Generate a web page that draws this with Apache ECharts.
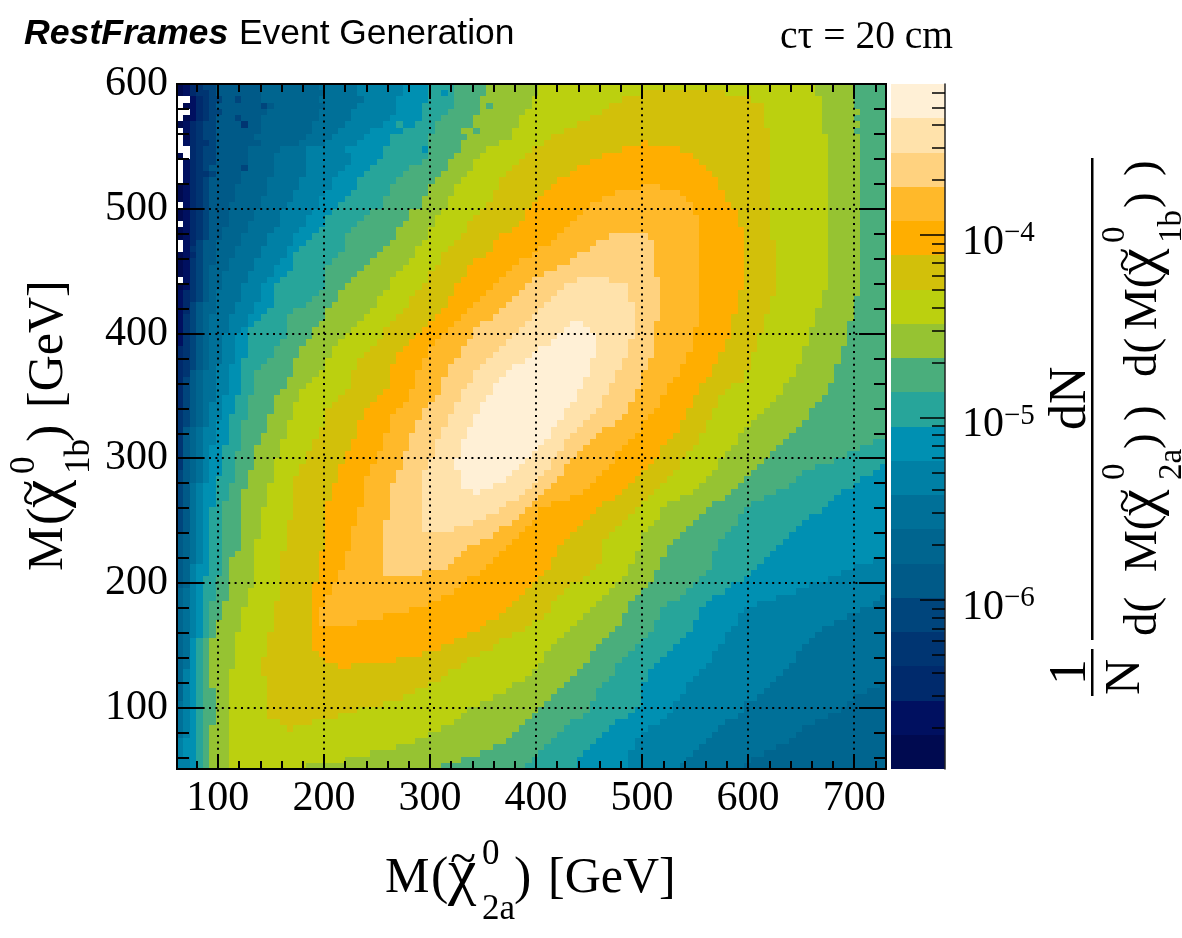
<!DOCTYPE html>
<html>
<head>
<meta charset="utf-8">
<style>html,body{margin:0;padding:0;background:#fff}#chart{width:1182px;height:938px}</style>
<script src="https://cdn.jsdelivr.net/npm/echarts@6/dist/echarts.min.js"></script>
</head>
<body>
<div id="chart"></div>
<script>
// Axis ranges in GeV and the binning of the 2D histogram
const xRange = [61.5, 730];
const yRange = [50.9, 600];
const binCount = 110;

const xMajorTicks = [100, 200, 300, 400, 500, 600, 700];
const yMajorTicks = [100, 200, 300, 400, 500, 600];
const xMinorTicks = [80, 120, 140, 160, 180, 220, 240, 260, 280, 320, 340, 360, 380, 420, 440, 460, 480, 520, 540, 560, 580, 620, 640, 660, 680, 720];
const yMinorTicks = [60, 80, 120, 140, 160, 180, 220, 240, 260, 280, 320, 340, 360, 380, 420, 440, 460, 480, 520, 540, 560, 580];

// Colour scale: log10 of the density, split into 20 contour bands
const logRange = [-6.926, -3.173];
const colorDecades = [-6, -5, -4];
const colorMinorTicks = [2e-7, 3e-7, 4e-7, 5e-7, 6e-7, 7e-7, 8e-7, 9e-7, 2e-6, 3e-6, 4e-6, 5e-6, 6e-6, 7e-6, 8e-6, 9e-6, 2e-5, 3e-5, 4e-5, 5e-5, 6e-5, 7e-5, 8e-5, 9e-5, 2e-4, 3e-4, 4e-4, 5e-4, 6e-4];
const bandColors = ['#000a50', '#001060', '#002a6c', '#003572', '#00457c', '#005a88', '#00658f', '#007098', '#0080a5', '#0090b2', '#27a59a', '#4aae7c', '#96c332', '#bbd00f', '#d2c00a', '#ffae00', '#ffb92a', '#ffd27f', '#ffe2ab', '#fff0d6'];

// Histogram contents, top row first. Each token is a band letter (a = lowest, t = highest,
// "." = empty bin) followed by the column where that run of bins ends.
const densityRows = [
"a1 b2 c3 d4 e6 f13 g22 h28 i35 j39 k43 l48 m56 n99 m105 l110",
"a1 b2 c3 d5 e6 f13 g23 h28 i35 j39 k41 j42 k43 l48 m56 n72 o85 n99 m105 l110",
".2 b3 c4 d5 e7 f9 e10 f13 g22 h29 i34 j39 k43 l47 m55 n69 o89 n100 m105 l110",
".1 a2 b3 c4 d5 e6 f13 e14 f15 g23 h28 i34 j38 k43 l47 m48 l49 m55 n67 o91 n100 m105 l110",
".2 b3 c4 d5 e7 f14 g22 h27 i34 j38 k42 l47 m54 n66 o91 n100 m106 l110",
".1 a2 b3 c4 d5 e6 f9 e10 f13 g22 h27 i33 j38 k41 l46 m53 n64 o91 n100 m105 l110",
"a1 b2 c3 d4 e6 f10 d11 f13 g21 h26 i32 j34 k35 j37 k40 l46 m53 n62 o91 n100 m106 l110",
".1 b2 c3 d4 e6 f13 g21 h25 i30 j35 k40 l44 m46 l47 m52 n60 o92 n100 m105 l110",
".1 a2 c3 d4 e6 f12 g20 h24 i29 j33 k39 l45 m52 n58 o92 n101 m106 l110",
".1 b2 c3 d5 e6 f13 g19 h23 i28 j33 k39 l44 m50 n57 o72 p73 o92 n101 m106 l110",
".1 .2 c3 d4 e6 f11 g16 h20 i26 j32 k38 j39 l44 m48 n55 o69 p78 o92 n101 m106 l110",
"a1 .2 c3 d4 e6 f11 g15 h20 i27 j32 k39 l43 m47 n54 o66 p80 o92 n101 m106 l110",
".1 b2 c3 d4 e6 f11 g15 h20 i27 j31 k38 l42 m46 n53 o64 p81 o92 n101 m106 l110",
".1 b2 c3 d4 e5 f10 e11 g15 h20 i26 j30 k36 l42 m46 n52 o62 p82 o92 n101 m106 l110",
".1 b2 c3 d5 e6 f10 g15 h20 i25 j29 k35 l41 m45 n51 o61 p83 o92 n101 m106 l110",
".1 b2 c3 d4 e5 f10 g14 h19 i24 j28 k34 l40 m44 n50 o59 p84 o92 n101 m106 l110",
"a1 b2 c3 d4 e5 f9 g14 h19 i24 j28 k26 k33 l39 m43 n50 o58 p72 q75 p84 o92 n101 m106 l110",
"a1 b2 c3 d4 e5 f9 g14 h18 i23 j27 k33 l39 m43 n49 o57 p68 q78 p85 o92 n101 m106 l110",
"a1 b2 c3 d4 e5 f9 g13 h18 i22 j26 k32 l38 m42 n49 o56 p66 q79 p85 o92 n101 m106 l110",
".1 b2 c3 d4 e5 f8 g13 h17 i22 j25 k32 l38 m42 n48 o55 p64 q80 p86 o92 n101 m106 l110",
"a1 b2 c3 d4 e5 f8 g12 h16 i21 j24 k30 l36 m41 n47 o54 p63 q80 p87 o92 n101 m106 l110",
"a1 b2 c3 d4 e5 f8 g12 h16 i20 j23 k29 l36 m40 n46 o54 p62 q81 p87 o92 n101 m106 l110",
".1 b2 c3 d4 e5 f8 g11 h16 i20 j23 k28 l35 m40 n45 o53 p61 q81 p87 o92 n101 m106 l110",
"a1 b2 c3 d4 e5 f7 g11 h15 i19 j22 k27 l34 m39 n45 o52 p60 q81 p88 o92 n101 m106 l110",
"a1 b2 c3 d4 e5 f7 g10 h14 i18 j21 k26 l34 m39 n44 o50 p59 q67 r73 q81 p88 o92 n101 m106 l110",
".1 b2 c3 e4 f6 g10 h14 i18 j20 k26 l33 m38 n43 o49 p58 q65 r74 q81 p88 o93 n101 m106 l110",
".1 b2 d3 e4 f6 g9 h13 i17 j19 k26 l32 m37 n42 o49 p56 q64 r74 q81 p88 o93 n101 m106 l110",
"a1 b2 c3 e4 f6 g9 h13 i17 j18 k25 l31 m37 n41 o48 p55 q62 r74 q81 p88 o93 n101 m106 l110",
"a1 b2 d3 e4 f6 g8 h12 i16 j18 k24 l30 m36 n41 o46 p53 q61 r74 q81 p88 o93 n101 m106 l110",
"a1 b2 d3 e4 f5 g8 h12 i15 j18 k23 l29 m35 n40 o45 p52 q59 r74 q81 p88 o93 n101 m106 l110",
"a1 b2 d3 e4 f5 g7 h11 i15 j17 k23 l28 m34 n39 o45 p51 q57 r74 q81 p88 o93 n101 m106 l110",
".1 b2 d3 e4 f5 g7 h11 i14 j16 k23 l27 m33 n39 o44 p50 q55 r62 s67 r75 q81 p88 o93 n101 m106 l110",
"a1 b2 d3 e4 f5 g7 h10 i13 j15 k23 l26 m33 n38 o43 p49 q54 r60 s70 r75 q81 p88 o93 n101 m106 l110",
"b1 c2 d3 e4 f5 g6 h10 i13 j15 k22 l25 m32 n37 o43 p48 q53 r59 s70 r75 q81 p87 o93 n100 m106 l110",
"b1 c2 d3 e4 f5 g6 h10 i13 j15 k21 l25 m31 n36 o42 p47 q52 r58 s70 r75 q81 p87 o92 n100 m105 l110",
"b1 c2 e3 f4 g6 h9 i12 j15 k20 l24 m31 n36 o42 p46 q51 r57 s71 r75 q81 p87 o92 n100 m105 l110",
"b1 c2 e3 f4 g6 h9 i12 j14 k18 l23 m30 n35 o41 p45 q50 r56 s71 r75 q81 p87 o92 n99 m105 l110",
"b1 d2 e3 f4 g5 h8 i11 j13 k17 l23 m29 n34 o40 p44 q49 r55 s71 r75 q81 p86 o91 n99 m105 l110",
"b1 d2 e3 f4 g5 h8 i11 j12 k17 l22 m28 n33 o39 p43 q47 r54 s61 t63 s71 r74 q81 p86 o91 n99 m104 l110",
"b1 d2 e3 f4 g5 h8 i10 j11 k17 l21 m27 n32 o38 p42 q46 r53 s60 t64 s71 r74 q80 p86 o91 n98 m104 l110",
"b1 d2 e3 f4 g5 h7 i9 j11 k17 l21 m26 n32 o37 p41 q46 r52 s59 t65 s71 r74 q80 p86 o90 n98 m104 l110",
"b1 d2 e3 f4 g5 h7 i9 j11 k16 l20 m25 n31 o36 p40 q45 r51 s58 t65 s70 r74 q80 p85 o90 n98 m104 l110",
"c1 d2 e3 f4 g5 h7 i9 j11 k15 l19 m24 n30 o35 p39 q44 r50 s56 t65 s70 r74 q80 p85 o90 n97 m103 l110",
"c1 d2 e3 f4 g5 h7 i9 j11 k15 l19 m24 n29 o34 p39 q44 r49 s55 t65 s70 r74 q79 p84 o89 n97 m103 l110",
"c1 d2 e3 f4 g5 h7 i9 j10 k14 l18 m23 n28 o34 p38 q43 r48 s54 t64 s69 r73 q79 p84 o89 n97 m103 l110",
"c1 d2 e3 f4 g5 h6 i8 j10 k13 l18 m23 n28 o33 p38 q42 r47 s52 t64 s69 r73 q78 p83 o89 n96 m102 l110",
"c1 d2 f3 g4 h6 i8 j10 k12 l18 m22 n27 o33 p37 q42 r46 s51 t64 s68 r72 q78 p83 o88 n96 m102 l110",
"c1 e2 f3 g4 h6 i8 j10 k12 l17 m21 n27 o33 p37 q41 r46 s50 t63 s68 r72 q77 p82 o88 n95 m102 l110",
"c1 e2 f3 g4 h6 i8 j10 k12 l17 m20 n27 o33 p37 q41 r45 s49 t63 s67 r72 q76 p81 o86 n94 m101 l110",
"c1 e2 f3 g4 h6 i8 j10 k12 l16 m19 n26 o32 p36 q41 r44 s49 t62 s67 r71 q76 p81 o85 n94 m101 l110",
"c1 e2 f3 g4 h6 i7 j9 k11 l15 m19 n25 o31 p36 q40 r44 s48 t62 s66 r71 q75 p80 o84 n93 m100 l110",
"c1 e2 f3 g4 h5 i7 j9 k11 l15 m18 n24 o30 p35 q39 r43 s47 t61 s66 r70 q75 p80 o84 n92 m99 l110",
"d1 e2 f3 g4 h5 i7 j9 k11 l15 m18 n23 o29 p34 q38 r43 s47 t60 s65 r70 q74 p79 o83 n91 m98 l110",
"d1 e2 f3 g4 h5 i7 j8 k11 l14 m18 n23 o29 p33 q38 r42 s46 t60 s64 r69 q73 p79 o83 n90 m98 l110",
"d1 e2 f3 g4 h5 i6 j8 k10 l14 m17 n23 o28 p33 q37 r42 s46 t59 s63 r68 q72 p78 o82 n89 m97 l110",
"d1 f2 g3 h4 i6 j8 k10 l14 m17 n22 o28 p33 q37 r41 s45 t58 s62 r66 q72 p78 o82 n88 m96 l110",
"d1 f2 g3 h4 i6 j8 k10 l13 m17 n22 o28 p32 q36 r41 s45 t58 s61 r65 q71 p77 o81 n87 m95 l110",
"d1 f2 g3 h4 i6 j8 k10 l13 m16 n21 o27 p32 q36 r40 s44 t57 s60 r64 q70 p76 o81 n87 m94 l108 k110",
"d1 f2 g3 h4 i5 j7 k10 l12 m16 n21 o27 p32 q36 r40 s44 t56 s60 r63 q69 p75 o80 n86 m93 l106 k110",
"d1 f2 g3 h4 i5 j7 k9 l12 m16 n20 o26 p31 q35 r40 s44 t55 s59 r62 q68 p75 o79 n85 m92 l104 k110",
"d1 f2 g3 h4 i5 j7 k9 l12 m15 n20 o26 p31 q35 r39 s43 t54 s58 r61 q68 p74 o78 n84 m91 l102 k110",
"d1 f2 g3 h4 i5 j7 k9 l12 m15 n19 o25 p30 q35 r39 s43 t53 s58 r60 q67 p73 o78 n84 m90 l99 k109 j110",
"e1 f2 g3 h4 i5 j7 k9 l11 m15 n19 o25 p30 q34 r38 s44 t52 s57 r60 q66 p72 o77 n83 m89 l97 k108 j110",
"e1 f2 g3 h4 i5 j6 k9 l11 m15 n18 o25 p29 q34 r38 s44 t51 s56 r59 q65 p71 o76 n82 m88 l96 k106 j110",
"e1 f2 h3 i4 j6 k8 l11 m14 n18 o24 p29 q33 r38 s44 t49 s55 r58 q64 p70 o75 n81 m87 l95 k105 j110",
"e1 f2 h3 i4 j6 k8 l10 m14 n18 o24 p29 q33 r38 s46 t47 s54 r57 q63 p69 o74 n80 m86 l93 k103 j110",
"e1 f2 h3 i4 j6 k8 l10 m14 n18 o24 p29 q33 r38 s53 r56 q61 p68 o73 n78 m85 l91 k102 j110",
"e1 f2 h3 i4 j6 k7 l10 m14 n18 o23 p29 q33 r38 s51 r55 q58 p66 o72 n76 m83 l89 k101 j110",
"e1 f2 h3 i4 j5 k7 l10 m13 n18 o23 p28 q33 r38 s50 r54 q56 p65 o71 n75 m82 l88 k100 j110",
"e1 f2 h3 i4 j5 k7 l10 m13 n18 o23 p28 q33 r38 s48 r53 q56 p64 o70 n75 m81 l87 k98 j110",
"e1 f2 h3 i4 j5 k7 l10 m13 n17 o23 p28 q32 r38 s46 r52 q55 p63 o69 n74 m80 l87 k97 j110",
"e1 f2 h3 i4 j5 k7 l10 m13 n17 o23 p27 q32 r38 s43 r50 q54 p62 o68 n73 m79 l86 k96 j110",
"f1 g2 h3 i4 j5 k7 l10 m13 n17 o23 p27 q32 r49 q53 p61 o67 n72 m78 l85 k95 j110",
"f1 g2 h3 i4 j5 k7 l10 m12 n17 o23 p27 q32 r47 q52 p60 o66 n72 m77 l84 k94 j110",
"f1 g2 h3 i4 j5 k7 l10 m12 n17 o23 p27 q32 r45 q51 p59 o66 n72 m76 l84 k93 j110",
"f1 g2 h3 i4 j5 k7 l9 m12 n16 o22 p26 q32 r44 q50 p59 o66 n71 m76 l83 k92 j110",
"f1 g2 h3 i4 j5 k7 l8 m12 n16 o22 p26 q32 r43 q49 p58 o66 n71 m75 l83 k91 j108 i110",
"f1 g2 i3 j5 k7 l8 m12 n16 o22 p26 q32 r42 q48 p58 o65 n70 m75 l83 k90 j105 i110",
"f1 g2 i3 j5 k7 l8 m12 n16 o22 p25 q32 r38 q47 p57 o64 n70 m74 l82 k89 j103 i110",
"f1 g2 i3 j4 k6 l8 m12 n16 o22 p25 q45 p56 o63 n69 m74 l81 k88 j101 i110",
"f1 g2 i3 j4 k6 l8 m12 n16 o21 p24 q44 p55 o61 n68 m73 l80 k86 j98 i110",
"g1 h2 i3 j4 k6 l8 m11 n16 o21 p24 q43 p54 o60 n67 m72 l79 k85 j96 i110",
"g1 h2 i3 j4 k6 l8 m11 n16 o21 p23 q41 p53 o59 n66 m71 l78 k83 j93 i109 h110",
"g1 h2 i3 j4 k5 l7 m11 n15 o21 p23 q39 p52 o58 n65 m70 l76 k82 j90 i108 h110",
"g1 h2 i3 j4 k5 l7 m10 n15 o21 p22 q36 p51 o58 n64 m70 l75 k81 j88 i106 h110",
"g1 h2 i3 j4 k5 l7 m10 n15 o21 p22 q32 p50 o57 n63 m69 l75 k81 j87 i104 h110",
"g1 h2 i3 j4 k5 l6 m10 n15 o21 p22 q28 p48 o55 n62 m69 l74 k80 j87 i102 h110",
"g1 h2 i3 j4 k5 l6 m10 n15 o21 p47 o54 n61 m68 l74 k80 j86 i100 h110",
"g1 h2 i3 j4 k5 l6 m9 n14 o21 p45 o52 n60 m67 l73 k79 j85 i99 h110",
"g1 h2 j3 k4 l5 m9 n14 o21 p43 o50 n59 m66 l72 k78 j85 i98 h110",
"g1 h2 j3 k4 l5 m9 n14 o21 p41 o49 n58 m65 l71 k77 j84 i97 h110",
"g1 h2 j3 k4 l5 m9 n14 o22 p38 o47 n57 m64 l70 k76 j83 i96 h110",
"g1 h2 j3 k4 l5 m9 n13 o23 p34 o45 n57 m64 l69 k75 j83 i96 h110",
"g1 h2 j3 k4 l5 m9 n13 o25 p27 o44 n56 m63 l68 k74 j82 i95 h110",
"g1 i2 j3 k4 l5 m8 n13 o42 n55 m62 l68 k73 j81 i94 h110",
"g1 i2 j3 k4 l5 m8 n14 o41 n54 m61 l67 k73 j80 i93 h110",
"g1 i2 j3 k4 l5 m8 n14 o39 n52 m60 l66 k72 j79 i92 h109 g110",
"g1 i2 j3 k4 l6 m8 n14 o37 n51 m59 l65 k72 j79 i91 h107 g110",
"g1 i2 j3 k4 l6 m8 n14 o35 n49 m58 l65 k72 j78 i90 h105 g110",
"h1 i2 j3 k4 l6 m8 n14 o32 n47 m57 l64 k72 j77 i88 h104 g110",
"h1 i2 j3 k4 l6 m8 n14 o28 n45 m56 l64 k71 j77 i88 h103 g110",
"h1 i2 j3 k4 l6 m8 n14 o25 n44 m55 l63 k70 j76 i87 h101 g110",
"h1 i2 j3 k4 l6 m8 n16 o21 n43 m54 l61 k68 j75 i85 h99 g110",
"h1 i2 j3 k4 l5 m8 n17 o18 n41 m53 l60 k67 j73 i84 h97 g110",
"h1 i2 j3 k4 l5 m8 n39 m52 l59 k66 j72 i83 h96 g110",
"i1 j3 k4 l5 m8 n37 m51 l58 k65 j71 i82 h95 g110",
"i1 j3 k4 l5 m8 n34 m49 l57 k64 j71 i81 h93 g110",
"i1 j3 k4 l5 m8 n30 m47 l56 k63 j70 i80 h91 g110",
"i2 j3 k4 l5 m8 n26 m44 l55 k62 j70 i79 h89 g110",
"i2 j3 k4 l5 m8 n20 m41 l54 k62 j70 i78 h88 g110"
];

// Expand the run-length rows into [xLow, yLow, band] bins
const xBin = (xRange[1] - xRange[0]) / binCount;
const yBin = (yRange[1] - yRange[0]) / binCount;
const bins = [];
densityRows.forEach((row, rowIndex) => {
  let col = 0;
  for (const [, band, end] of row.matchAll(/([a-t.])(\d+)/g)) {
    const stop = Math.min(+end, binCount);
    for (; col < stop; col++) {
      if (band !== '.') {
        bins.push([xRange[0] + col * xBin, yRange[0] + (binCount - 1 - rowIndex) * yBin, band.charCodeAt(0) - 97]);
      }
    }
  }
});

const bandStep = (logRange[1] - logRange[0]) / bandColors.length;
const colorBands = bandColors.map((c, i) => [logRange[0] + i * bandStep, logRange[0] + (i + 1) * bandStep, i]);

const SERIF = '"Liberation Serif","Times New Roman",serif';
const SANS = '"Liberation Sans",Arial,sans-serif';
const UP = Math.PI / 2;

function edgeAxis(position, range, ticks, length, labelled) {
  const style = { color: '#000', width: 2 };
  const axis = {
    type: 'value', gridIndex: 0, position, min: range[0], max: range[1], z: 10,
    axisLine: { show: true, onZero: false, lineStyle: { color: '#000', width: 2 } },
    axisTick: { show: true, inside: true, length, customValues: ticks, lineStyle: style },
    axisLabel: { show: false },
    splitLine: { show: false }
  };
  if (labelled) {
    axis.axisLabel = {
      show: true, customValues: ticks, margin: 9, color: '#000',
      fontFamily: SERIF, fontSize: 42,
      formatter: v => String(Math.round(v))
    };
  }
  return axis;
}

function text(str, x, y, size, rotation, family, extra) {
  return {
    type: 'text', x, y, rotation: rotation || 0, silent: true, z: 20,
    style: Object.assign({
      text: str, x: 0, y: 0, fill: '#000', fontSize: size, fontFamily: family || SERIF,
      align: 'left', verticalAlign: 'middle'
    }, extra || {})
  };
}

const titles = [
  text('RestFrames', 24, 34, 35.7, 0, SANS, { fontWeight: 'bold', fontStyle: 'italic' }),
  text('Event Generation', 239, 34, 35.4, 0, SANS),
  text('cτ = 20 cm', 780, 38, 39.5),

  // Horizontal axis title
  text('M', 385, 879, 50),
  text('(', 431, 879, 52),
  text('χ', 448, 875, 64),
  text('~', 450, 861, 48),
  text('0', 482, 855, 35),
  text('2a', 482, 910, 35),
  text(')', 514, 879, 52),
  text('[GeV]', 548, 879, 50),

  // Vertical axis title
  text('M', 49, 571, 50, UP),
  text('(', 49, 525, 52, UP),
  text('χ', 45, 508, 64, UP),
  text('~', 31, 506, 48, UP),
  text('0', 25, 474, 35, UP),
  text('1b', 80, 474, 35, UP),
  text(')', 49, 442, 52, UP),
  text('[GeV]', 49, 408, 50, UP),

  // Colour scale title: 1/N · dN / (d(M) d(M))
  text('1', 1071, 685, 52, UP),
  text('N', 1126, 695, 50, UP),
  text('dN', 1071, 430, 52, UP),
  text('d(', 1144, 636, 47, UP),
  text('M(', 1144, 572, 47, UP),
  text('χ', 1140, 516, 60, UP),
  text('~', 1127, 513, 45, UP),
  text('0', 1115, 480, 33, UP),
  text('2a', 1172, 480, 33, UP),
  text(')', 1144, 449, 47, UP),
  text(')', 1144, 421, 47, UP),
  text('d(', 1144, 377, 47, UP),
  text('M(', 1144, 330, 47, UP),
  text('χ', 1140, 275, 60, UP),
  text('~', 1127, 272, 45, UP),
  text('0', 1115, 243, 33, UP),
  text('1b', 1172, 243, 33, UP),
  text(')', 1144, 208, 47, UP),
  text(')', 1144, 176, 47, UP),
  { type: 'rect', silent: true, shape: { x: 1091, y: 649, width: 2.5, height: 47 }, style: { fill: '#000' } },
  { type: 'rect', silent: true, shape: { x: 1091, y: 158, width: 2.5, height: 482 }, style: { fill: '#000' } }
];

const chart = echarts.init(document.getElementById('chart'), null, { renderer: 'canvas' });

const dotted = { color: '#000', width: 2, type: [2, 4.4], opacity: 1 };

chart.setOption({
  animation: false,
  backgroundColor: '#fff',
  graphic: { elements: titles },
  grid: [
    { left: 177, top: 84, width: 709, height: 685 },
    { left: 891, top: 84, width: 54, height: 685 }
  ],
  xAxis: [
    edgeAxis('bottom', xRange, xMajorTicks, 15, true),
    edgeAxis('bottom', xRange, xMinorTicks, 8, false),
    edgeAxis('top', xRange, xMajorTicks, 15, false),
    edgeAxis('top', xRange, xMinorTicks, 8, false),
    { type: 'value', gridIndex: 1, min: 0, max: 1, show: false }
  ],
  yAxis: [
    edgeAxis('left', yRange, yMajorTicks, 27, true),
    edgeAxis('left', yRange, yMinorTicks, 12, false),
    edgeAxis('right', yRange, yMajorTicks, 27, false),
    edgeAxis('right', yRange, yMinorTicks, 12, false),
    {
      type: 'value', gridIndex: 1, position: 'right', min: logRange[0], max: logRange[1], z: 10,
      axisLine: { show: true, onZero: false, lineStyle: { color: '#222', width: 1.5 } },
      axisTick: { show: true, inside: true, length: 25, customValues: colorDecades, lineStyle: { color: '#000', width: 1.5 } },
      axisLabel: {
        show: true, customValues: colorDecades, margin: 17, padding: [16, 0, 0, 0],
        formatter: v => '{b|10}{s|−' + Math.abs(Math.round(v)) + '}',
        rich: {
          b: { fontFamily: SERIF, fontSize: 42, color: '#000', lineHeight: 48 },
          s: { fontFamily: SERIF, fontSize: 29, color: '#000', verticalAlign: 'top', lineHeight: 20 }
        }
      },
      splitLine: { show: false }
    },
    {
      type: 'value', gridIndex: 1, position: 'right', min: logRange[0], max: logRange[1], z: 10,
      axisLine: { show: false, onZero: false },
      axisTick: { show: true, inside: true, length: 13, customValues: colorMinorTicks.map(Math.log10), lineStyle: { color: '#000', width: 1.5 } },
      axisLabel: { show: false },
      splitLine: { show: false }
    }
  ],
  series: [
    {
      // 2D histogram; bin edges snap to whole pixels so neighbours leave no seams
      type: 'custom',
      xAxisIndex: 0,
      yAxisIndex: 0,
      progressive: 0,
      clip: true,
      silent: true,
      data: bins,
      renderItem(params, api) {
        const p0 = api.coord([api.value(0), api.value(1)]);
        const p1 = api.coord([api.value(0) + xBin, api.value(1) + yBin]);
        const x0 = Math.round(p0[0]), x1 = Math.round(p1[0]);
        const y0 = Math.round(p1[1]), y1 = Math.round(p0[1]);
        return {
          type: 'rect',
          shape: { x: x0, y: y0, width: x1 - x0, height: y1 - y0 },
          style: { fill: bandColors[api.value(2)] }
        };
      },
      markLine: {
        silent: true, symbol: 'none', animation: false,
        label: { show: false },
        lineStyle: dotted,
        data: xMajorTicks.map(v => ({ xAxis: v })).concat(yMajorTicks.slice(0, 5).map(v => ({ yAxis: v })))
      }
    },
    {
      // Colour scale bands
      type: 'custom',
      xAxisIndex: 4,
      yAxisIndex: 4,
      silent: true,
      data: colorBands,
      encode: { y: [0, 1] },
      renderItem(params, api) {
        const p0 = api.coord([0, api.value(0)]);
        const p1 = api.coord([1, api.value(1)]);
        const y0 = Math.round(p1[1]), y1 = Math.round(p0[1]);
        return {
          type: 'rect',
          shape: { x: p0[0], y: y0, width: p1[0] - p0[0], height: y1 - y0 },
          style: { fill: bandColors[api.value(2)] }
        };
      }
    }
  ]
});
</script>
</body>
</html>
